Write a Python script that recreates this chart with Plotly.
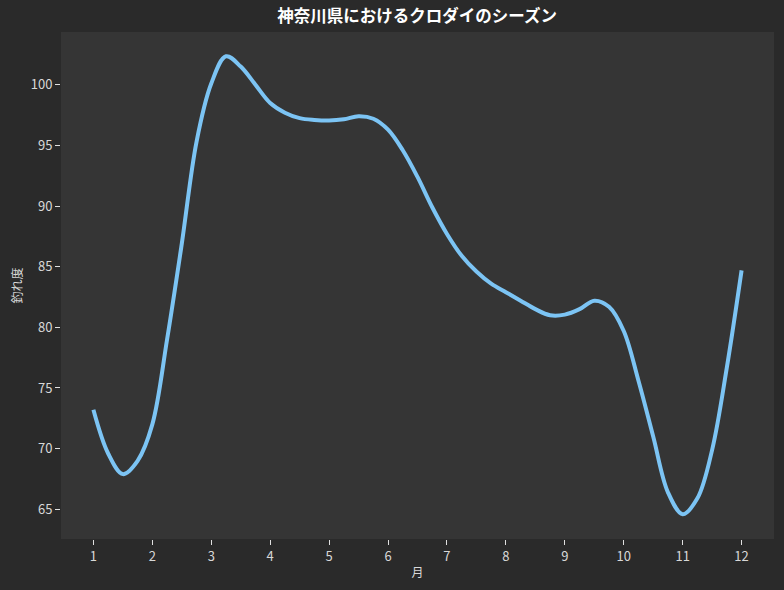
import plotly.graph_objects as go

# Values (month, catch index), quarter-month steps
months = [1, 1.25, 1.5, 1.75, 2, 2.25, 2.5, 2.75, 3, 3.25, 3.5, 3.75, 4, 4.25,
          4.5, 4.75, 5, 5.25, 5.5, 5.75, 6, 6.25, 6.5, 6.75, 7, 7.25, 7.5, 7.75,
          8, 8.25, 8.5, 8.75, 9, 9.25, 9.5, 9.75, 10, 10.25, 10.5, 10.75, 11,
          11.25, 11.5, 11.75, 12]
catch_index = [73.2, 69.6, 67.9, 69.0, 72.0, 79.0, 86.9, 95.3, 100.1, 102.35, 101.5,
               100.0, 98.5, 97.7, 97.25, 97.1, 97.05, 97.15, 97.4, 97.2, 96.3, 94.6,
               92.4, 89.9, 87.7, 85.9, 84.6, 83.6, 82.9, 82.2, 81.5, 81.0, 81.05,
               81.5, 82.2, 81.7, 79.7, 75.6, 71.0, 66.4, 64.6, 65.9, 69.9, 76.7, 84.7]

x_ticks = list(range(1, 13))
y_ticks = [65, 70, 75, 80, 85, 90, 95, 100]

title_text = "神奈川県におけるクロダイのシーズン"
x_label = "月"
y_label = "釣れ度"

font_family = "Noto Sans CJK JP, Noto Sans, sans-serif"

fig = go.Figure()
fig.add_trace(go.Scatter(
    x=months, y=catch_index, mode="lines",
    line=dict(color="#7cc4f4", width=4, shape="spline", smoothing=1.0),
    hoverinfo="skip", showlegend=False,
))

fig.update_layout(
    width=784, height=590,
    paper_bgcolor="#2a2a2a", plot_bgcolor="#353535",
    margin=dict(l=61, r=10, t=32, b=51),
    font=dict(family=font_family, color="#d8d8d8", size=13),
    title=dict(text="<b>" + title_text + "</b>", x=0.532, xanchor="center",
               y=0.972, yanchor="middle",
               font=dict(size=16.5, color="#ffffff", family=font_family)),
)
fig.update_xaxes(
    range=[0.45, 12.55], tickvals=x_ticks, ticktext=[str(v) for v in x_ticks],
    showgrid=False, zeroline=False, showline=False,
    ticks="outside", ticklen=5, tickcolor="#e0e0e0", tickwidth=1,
    tickfont=dict(size=13, color="#d8d8d8"),
    title=dict(text=x_label, font=dict(size=12, color="#d8d8d8"), standoff=5),
)
fig.update_yaxes(
    range=[62.55, 104.35], tickvals=y_ticks, ticktext=[str(v) for v in y_ticks],
    showgrid=False, zeroline=False, showline=False,
    ticks="outside", ticklen=5, tickcolor="#e0e0e0", tickwidth=1,
    tickfont=dict(size=13, color="#d8d8d8"),
    title=dict(text=y_label, font=dict(size=12, color="#d8d8d8"), standoff=5),
)

fig.write_html(
    "out.html",
    config={"displayModeBar": False},
    post_script="document.body.style.margin='0';document.body.style.background='#2a2a2a';",
)
